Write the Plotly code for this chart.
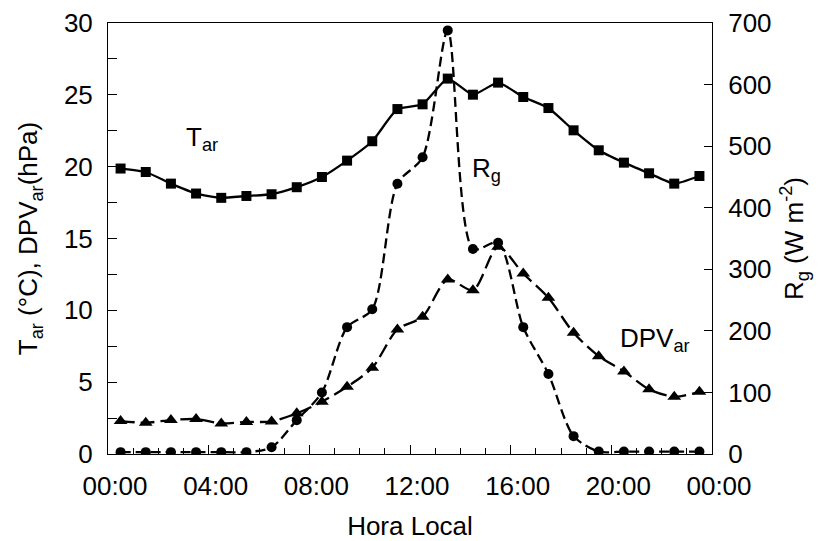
import plotly.graph_objects as go

hours = [0.5, 1.5, 2.5, 3.5, 4.5, 5.5, 6.5, 7.5, 8.5, 9.5, 10.5, 11.5,
         12.5, 13.5, 14.5, 15.5, 16.5, 17.5, 18.5, 19.5, 20.5, 21.5, 22.5, 23.5]

t_ar = [19.87, 19.63, 18.82, 18.13, 17.83, 17.96, 18.08, 18.57, 19.28, 20.42, 21.77, 24.01,
        24.34, 26.13, 25.01, 25.85, 24.85, 24.08, 22.53, 21.14, 20.28, 19.54, 18.82, 19.35]

dpv_ar = [2.29, 2.18, 2.36, 2.43, 2.13, 2.23, 2.27, 2.83, 3.64, 4.68, 6.0, 8.67,
          9.55, 12.15, 11.4, 14.42, 12.56, 10.87, 8.44, 6.81, 5.75, 4.50, 3.99, 4.33]

rg = [3, 3, 3, 3, 3, 3, 11, 55, 100, 206, 235, 439,
      482, 688, 333, 343, 206, 130, 29, 4, 4, 4, 4, 4]

x_tickvals = [0, 4, 8, 12, 16, 20, 24]
x_ticktext = ["00:00", "04:00", "08:00", "12:00", "16:00", "20:00", "00:00"]

FONT = "Liberation Sans, Arial, sans-serif"
FS = 26

fig = go.Figure()

fig.add_trace(go.Scatter(
    x=hours, y=t_ar, mode="lines+markers", name="Tar",
    line=dict(color="black", width=2.3, shape="spline", smoothing=0.5),
    marker=dict(symbol="square", size=10, color="black"),
))
fig.add_trace(go.Scatter(
    x=hours, y=dpv_ar, mode="lines+markers", name="DPVar",
    line=dict(color="black", width=2.3, dash="14px,6px", shape="spline", smoothing=0.8),
    marker=dict(symbol="triangle-up", size=12, color="black"),
))
fig.add_trace(go.Scatter(
    x=hours, y=rg, mode="lines+markers", name="Rg", yaxis="y2",
    line=dict(color="black", width=2.3, dash="10px,5px", shape="spline", smoothing=0.8),
    marker=dict(symbol="circle", size=10, color="black"),
))

fig.add_annotation(x=3.0, y=21.95, text="T<sub>ar</sub>", showarrow=False,
                   xanchor="left", yanchor="middle", font=dict(family=FONT, size=FS, color="black"))
fig.add_annotation(x=14.4, y=19.8, text="R<sub>g</sub>", showarrow=False,
                   xanchor="left", yanchor="middle", font=dict(family=FONT, size=FS, color="black"))
fig.add_annotation(x=20.25, y=8.0, text="DPV<sub>ar</sub>", showarrow=False,
                   xanchor="left", yanchor="middle", font=dict(family=FONT, size=FS, color="black"))

fig.update_layout(
    width=827, height=541,
    margin=dict(l=108, r=115, t=23, b=87),
    plot_bgcolor="white", paper_bgcolor="white",
    showlegend=False,
    font=dict(family=FONT, size=FS, color="black"),
    xaxis=dict(
        range=[0, 24], tickmode="array", tickvals=x_tickvals, ticktext=x_ticktext,
        ticks="inside", ticklen=9, tickwidth=1, tickcolor="black",
        minor=dict(ticks="inside", dtick=1, tick0=0, ticklen=6, tickcolor="black"),
        showline=True, linecolor="black", linewidth=1, mirror=True,
        showgrid=False, zeroline=False, automargin=False,
        ticklabelstandoff=9, ticklabelshift=7,
        title=dict(text="Hora Local", standoff=18, font=dict(size=FS)),
        tickfont=dict(size=FS),
    ),
    yaxis=dict(
        range=[0, 30], dtick=5, tick0=0,
        ticks="inside", ticklen=9, tickcolor="black",
        minor=dict(ticks="inside", dtick=2.5, tick0=0, ticklen=9, tickcolor="black"),
        showline=True, linecolor="black", linewidth=1, mirror=False,
        showgrid=False, zeroline=False, automargin=False,
        ticklabelstandoff=9,
        title=dict(text="T<sub>ar</sub> (°C), DPV<sub>ar</sub>(hPa)", standoff=18, font=dict(size=FS)),
        tickfont=dict(size=FS),
    ),
    yaxis2=dict(
        range=[0, 700], dtick=100, tick0=0, overlaying="y", side="right",
        ticks="inside", ticklen=8, tickcolor="black",
        showline=True, linecolor="black", linewidth=1,
        showgrid=False, zeroline=False, automargin=False,
        ticklabelstandoff=10,
        title=dict(text="R<sub>g</sub> (W m<sup>-2</sup>)", standoff=14, font=dict(size=FS)),
        tickfont=dict(size=FS),
    ),
)

fig.write_html("out.html")
